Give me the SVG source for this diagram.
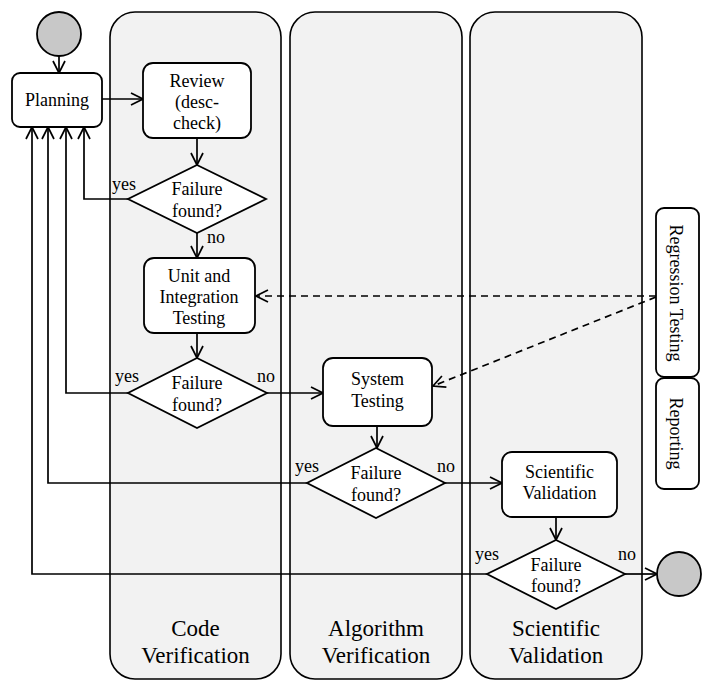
<svg xmlns="http://www.w3.org/2000/svg" width="708" height="681" viewBox="0 0 708 681" font-family="'Liberation Serif', 'Times New Roman', Times, serif">
<style>
text{font-family:"Liberation Serif","Times New Roman",Times,serif;font-size:18px;fill:#000}
.c{text-anchor:middle}
.lane{fill:#f2f2f2;stroke:#000;stroke-width:1.6}
.lt{font-size:23px;text-anchor:middle}
.box{fill:#fff;stroke:#000;stroke-width:1.8}
.circ{fill:#c8c8c8;stroke:#000;stroke-width:1.8}
.ln{fill:none;stroke:#000;stroke-width:1.7}
.dash{fill:none;stroke:#000;stroke-width:1.7;stroke-dasharray:7,5}
</style>
<defs>
<marker id="a" markerUnits="userSpaceOnUse" viewBox="0 0 14 14" refX="13" refY="7" markerWidth="14" markerHeight="14" orient="auto">
<path d="M1,1 L13,7 L1,13" fill="none" stroke="#000" stroke-width="1.7"/>
</marker>
</defs>
<g id="lanes">
<g id="lane-code"><rect class="lane" x="110" y="12" width="171" height="667" rx="25"/><text class="lt" x="195.5" y="636">Code</text><text class="lt" x="195.5" y="663">Verification</text></g>
<g id="lane-algo"><rect class="lane" x="290" y="12" width="172" height="667" rx="25"/><text class="lt" x="376" y="636">Algorithm</text><text class="lt" x="376" y="663">Verification</text></g>
<g id="lane-sci"><rect class="lane" x="470" y="12" width="172" height="667" rx="25"/><text class="lt" x="556" y="636">Scientific</text><text class="lt" x="556" y="663">Validation</text></g>
</g>
<g id="connectors">
<path class="ln" d="M59,56 L59,73" marker-end="url(#a)"/>
<path class="ln" d="M102,99 L143,99" marker-end="url(#a)"/>
<path class="ln" d="M197,138 L197,165" marker-end="url(#a)"/>
<path class="ln" d="M128,199 L84,199 L84,127" marker-end="url(#a)"/>
<path class="ln" d="M197,233 L197,258" marker-end="url(#a)"/>
<path class="ln" d="M197,333 L197,358" marker-end="url(#a)"/>
<path class="ln" d="M128,393 L66,393 L66,127" marker-end="url(#a)"/>
<path class="ln" d="M267,393 L323,393" marker-end="url(#a)"/>
<path class="ln" d="M377,426 L377,448" marker-end="url(#a)"/>
<path class="ln" d="M307,483 L48,483 L48,127" marker-end="url(#a)"/>
<path class="ln" d="M445,483 L502,483" marker-end="url(#a)"/>
<path class="ln" d="M556,517 L556,540" marker-end="url(#a)"/>
<path class="ln" d="M487,574 L32,574 L32,127" marker-end="url(#a)"/>
<path class="ln" d="M625,574 L657,574" marker-end="url(#a)"/>
<path class="dash" d="M656,296 L256,296" marker-end="url(#a)"/>
<path class="dash" d="M656,297 L433,386" marker-end="url(#a)"/>
<text x="112" y="190">yes</text>
<text x="207" y="243">no</text>
<text x="115" y="382">yes</text>
<text x="257" y="382">no</text>
<text x="295" y="472">yes</text>
<text x="437" y="472">no</text>
<text x="475" y="560">yes</text>
<text x="618" y="560">no</text>
</g>
<g id="start"><circle class="circ" cx="59" cy="34" r="22"/></g>
<g id="planning"><rect class="box" x="12" y="73" width="90" height="54" rx="8"/><text class="c" x="57" y="106">Planning</text></g>
<g id="review"><rect class="box" x="143" y="63" width="108" height="75" rx="10"/><text class="c" x="197" y="87">Review</text><text class="c" x="197" y="108">(desc-</text><text class="c" x="197" y="129">check)</text></g>
<g id="dec1"><polygon class="box" points="197,165 266,199 197,233 128,199"/><text class="c" x="197" y="195">Failure</text><text class="c" x="197" y="217">found?</text></g>
<g id="unit"><rect class="box" x="144" y="258" width="111" height="75" rx="10"/><text class="c" x="199" y="282">Unit and</text><text class="c" x="199" y="303">Integration</text><text class="c" x="199" y="324">Testing</text></g>
<g id="dec2"><polygon class="box" points="197,358 267,393 197,428 128,393"/><text class="c" x="197" y="389">Failure</text><text class="c" x="197" y="411">found?</text></g>
<g id="system"><rect class="box" x="323" y="358" width="109" height="68" rx="10"/><text class="c" x="377.5" y="385">System</text><text class="c" x="377.5" y="407">Testing</text></g>
<g id="dec3"><polygon class="box" points="376,448 445,483 376,518 307,483"/><text class="c" x="376" y="479">Failure</text><text class="c" x="376" y="501">found?</text></g>
<g id="scival"><rect class="box" x="502" y="452" width="115" height="65" rx="10"/><text class="c" x="559.5" y="478">Scientific</text><text class="c" x="559.5" y="499">Validation</text></g>
<g id="dec4"><polygon class="box" points="556,540 625,574 556,609 487,574"/><text class="c" x="556" y="571">Failure</text><text class="c" x="556" y="592">found?</text></g>
<g id="end"><circle class="circ" cx="679" cy="574" r="22"/></g>
<g id="regression"><rect class="box" x="656" y="208" width="43" height="169" rx="8"/><text class="c" transform="translate(670,293) rotate(90)" x="0" y="0">Regression Testing</text></g>
<g id="reporting"><rect class="box" x="656" y="378" width="43" height="111" rx="8"/><text class="c" transform="translate(670,433.5) rotate(90)" x="0" y="0">Reporting</text></g>
</svg>
